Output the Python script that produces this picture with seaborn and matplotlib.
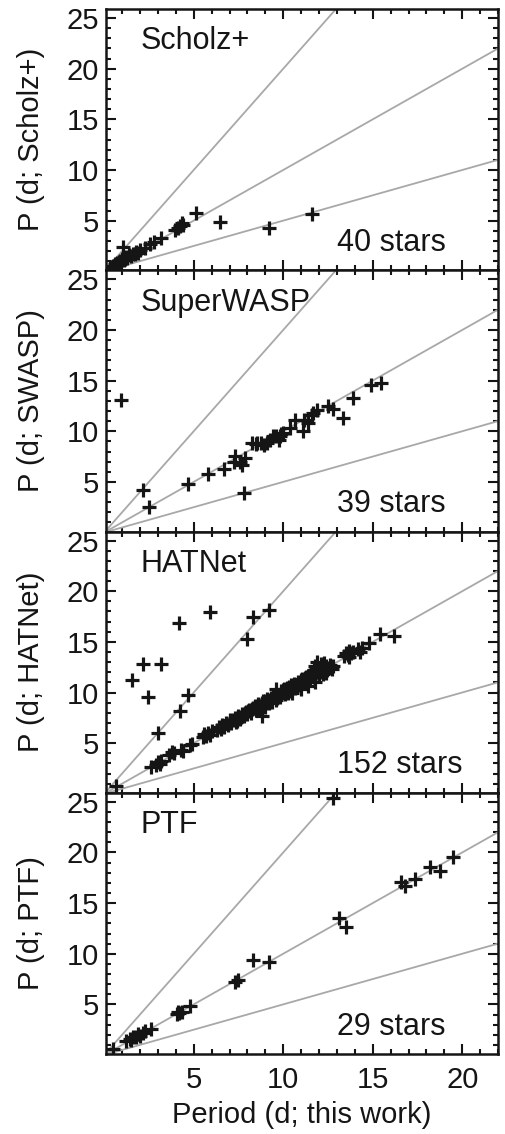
import matplotlib
matplotlib.use("Agg")
import matplotlib.pyplot as plt
import seaborn as sns
import pandas as pd
from matplotlib.ticker import MultipleLocator

# ---------------- data ----------------
panel_names = ["Scholz+", "SuperWASP", "HATNet", "PTF"]
ylabels = ["P (d; Scholz+)", "P (d; SWASP)", "P (d; HATNet)", "P (d; PTF)"]
star_labels = ["40 stars", "39 stars", "152 stars", "29 stars"]

scholz_x = [5.11, 6.47, 9.18, 11.61, 4.32, 4.24, 3.95, 4.10, 3.20, 2.55, 2.27, 1.05, 2.80, 1.80,
            1.90, 1.60, 1.50, 1.40, 1.30, 1.20, 1.10, 1.00, 0.95, 0.90, 0.85, 0.80, 0.75, 0.70,
            0.65, 0.60, 0.55, 0.50, 0.45, 0.40, 0.35, 0.30, 1.15, 1.70, 2.00, 4.40]
scholz_y = [5.75, 4.86, 4.27, 5.68, 4.76, 4.50, 4.10, 4.30, 3.28, 2.72, 2.29, 2.39, 2.90, 1.90,
            1.80, 1.70, 1.50, 1.60, 1.30, 1.40, 1.10, 1.20, 0.90, 1.00, 0.80, 0.90, 0.70, 0.80,
            0.60, 0.70, 0.50, 0.55, 0.40, 0.45, 0.30, 0.35, 1.25, 1.75, 2.10, 4.60]

swasp_x = [0.96, 2.16, 2.50, 4.67, 5.78, 6.67, 7.82, 7.32, 7.60, 7.69, 7.88, 7.23, 8.25, 8.55,
           8.90, 9.09, 9.27, 9.45, 9.84, 9.75, 10.00, 10.38, 10.66, 11.13, 11.14, 11.40, 11.68,
           11.87, 12.52, 12.80, 13.35, 13.90, 14.93, 15.49, 8.50, 9.60, 9.90, 11.60, 8.75]
swasp_y = [13.07, 4.23, 2.48, 4.79, 5.81, 6.27, 3.90, 7.51, 7.00, 6.68, 7.35, 7.00, 8.85, 8.85,
           8.66, 8.85, 9.18, 9.50, 9.50, 9.18, 9.82, 10.34, 11.16, 10.00, 11.16, 10.83, 11.82,
           12.13, 12.47, 12.22, 11.32, 13.24, 14.60, 14.78, 8.70, 9.55, 9.70, 11.60, 8.80]

hat_x = [1.58, 2.14, 2.42, 3.20, 4.17, 4.23, 4.69, 5.91, 7.97, 8.34, 9.18, 3.01, 0.68,
         2.6, 2.9, 3.0, 3.1, 3.2, 3.6, 3.8, 3.9, 4.3, 4.4, 4.8, 4.9, 5.5, 5.6, 5.7, 5.8, 5.9,
         6.0, 6.3, 6.4, 6.5, 6.6, 6.7, 6.8, 6.9, 7.0, 7.1, 7.2, 7.3, 7.4, 7.5, 7.6, 7.7, 7.8,
         7.9, 8.0, 8.1, 8.2, 8.3, 8.4, 8.5, 8.6, 8.7, 8.8, 8.8, 8.9, 9.0, 9.0, 9.1, 9.2, 9.3,
         9.4, 9.5, 9.6, 9.6, 9.7, 9.8, 9.9, 10.0, 10.1, 10.2, 10.3, 10.4, 10.5, 10.5, 10.6,
         10.7, 10.8, 10.9, 11.0, 11.0, 11.1, 11.2, 11.3, 11.4, 11.4, 11.5, 11.6, 11.7, 11.7,
         11.8, 11.8, 11.9, 11.9, 12.0, 12.0, 12.1, 12.1, 12.2, 12.2, 12.3, 12.3, 12.4, 12.4,
         12.5, 12.6, 12.7, 12.8, 13.4, 13.5, 13.6, 13.7, 13.7, 13.8, 14.2, 14.3, 14.4, 14.8,
         15.4, 16.2,
         7.05, 7.35, 7.45, 7.65, 7.85, 8.05, 8.25, 8.45, 8.65, 8.85, 9.05, 9.25, 9.45, 9.65,
         9.85, 10.05, 10.25, 10.45, 10.65, 10.85, 11.05, 11.25, 11.45, 11.65, 11.85, 12.05,
         12.25, 12.45, 13.9]
hat_y = [11.25, 12.77, 9.60, 12.77, 16.86, 8.20, 9.76, 17.95, 15.24, 17.46, 18.12, 6.05, 0.76,
         2.6, 2.8, 3.1, 2.9, 3.2, 3.8, 4.1, 4.0, 4.3, 4.2, 4.8, 4.9, 5.6, 5.9, 5.7, 6.0, 5.8,
         6.2, 6.3, 6.6, 6.4, 6.8, 6.6, 7.0, 6.8, 7.1, 7.0, 7.3, 7.5, 7.2, 7.6, 7.4, 7.9, 7.7,
         8.1, 7.9, 8.3, 8.0, 8.5, 8.6, 8.3, 8.9, 8.7, 9.0, 7.7, 8.8, 9.2, 8.6, 9.4, 9.0, 9.5,
         9.1, 9.7, 9.3, 10.3, 9.8, 9.6, 10.0, 10.2, 9.9, 10.4, 10.5, 10.1, 10.6, 10.0, 10.8,
         10.5, 11.0, 10.7, 11.2, 10.3, 11.0, 11.4, 11.1, 11.6, 10.6, 11.3, 11.8, 12.2, 11.5,
         12.6, 11.0, 13.0, 12.0, 12.4, 11.6, 12.8, 12.1, 12.5, 11.8, 12.9, 12.2, 12.6, 11.9,
         12.4, 12.7, 12.3, 12.6, 13.6, 13.9, 13.7, 14.1, 13.5, 13.9, 14.3, 14.0, 14.4, 14.9,
         15.8, 15.6,
         7.25, 7.1, 7.7, 7.6, 8.0, 8.2, 8.4, 8.7, 8.5, 9.2, 9.0, 9.3, 9.6, 9.5,
         10.1, 10.3, 10.0, 10.7, 10.4, 10.9, 11.3, 11.5, 11.2, 12.0, 12.3, 12.0,
         12.7, 12.2, 14.0]

ptf_x = [12.80, 19.50, 18.18, 18.74, 17.34, 16.60, 16.79, 13.13, 13.50, 8.34, 9.18, 7.32, 7.50,
         4.82, 4.35, 4.04, 4.13, 2.64, 2.17, 1.89, 1.61, 1.42, 1.24, 0.49, 4.20, 2.00, 1.75,
         2.30, 1.50]
ptf_y = [25.40, 19.60, 18.56, 18.13, 17.34, 17.08, 16.68, 13.54, 12.62, 9.39, 9.16, 7.24, 7.40,
         4.86, 4.27, 4.04, 4.20, 2.55, 2.22, 2.06, 1.73, 1.63, 1.37, 0.57, 4.10, 1.90, 1.80,
         2.40, 1.45]

panel_x = [scholz_x, swasp_x, hat_x, ptf_x]
panel_y = [scholz_y, swasp_y, hat_y, ptf_y]

ref_slopes = [0.5, 1.0, 2.0]
ref_x = [0.0, 22.0]

# ---------------- style ----------------
sns.set_theme(style="ticks")
plt.rcParams["font.family"] = ["Liberation Sans", "DejaVu Sans"]
plt.rcParams["text.color"] = "#151515"
plt.rcParams["axes.labelcolor"] = "#151515"
plt.rcParams["xtick.color"] = "#151515"
plt.rcParams["ytick.color"] = "#151515"

W, H = 505, 1134
fig = plt.figure(figsize=(W / 100, H / 100), dpi=100)

left_px, right_px = 106, 498
top_px, bot_px = 9, 1054
ph = (bot_px - top_px) / 4

line_col = "#a8a8a8"
txt_col = "#151515"

for i in range(4):
    t = top_px + i * ph
    b = t + ph
    ax = fig.add_axes([left_px / W, 1 - b / H, (right_px - left_px) / W, ph / H])

    ref_df = pd.DataFrame({
        "x": [xx for s in ref_slopes for xx in ref_x],
        "y": [s * xx for s in ref_slopes for xx in ref_x],
        "slope": [s for s in ref_slopes for xx in ref_x],
    })
    sns.lineplot(data=ref_df, x="x", y="y", units="slope", estimator=None,
                 color=line_col, linewidth=1.3, ax=ax, zorder=1)

    df = pd.DataFrame({"x": panel_x[i], "y": panel_y[i]})
    sns.scatterplot(data=df, x="x", y="y", marker="+", s=105, color=txt_col,
                    linewidth=2.3, ax=ax, zorder=3)

    ax.set_xlim(0.1, 22.0)
    ax.set_ylim(0.1, 25.9)
    ax.xaxis.set_major_locator(MultipleLocator(5))
    ax.xaxis.set_minor_locator(MultipleLocator(1))
    ax.yaxis.set_major_locator(MultipleLocator(5))
    ax.yaxis.set_minor_locator(MultipleLocator(1))
    ax.tick_params(which="both", direction="in", top=True, right=True,
                   width=1.5, colors=txt_col)
    ax.tick_params(which="major", length=7.2)
    ax.tick_params(which="minor", length=3.6)
    ax.tick_params(axis="y", labelsize=21, pad=5)
    ax.tick_params(axis="x", labelsize=21, pad=9)
    for sp in ax.spines.values():
        sp.set_linewidth(1.8)
        sp.set_color(txt_col)

    ax.set_ylabel(ylabels[i], fontsize=21)
    ax.yaxis.set_label_coords(-0.156, 0.5)
    if i < 3:
        ax.set_xlabel("")
        ax.tick_params(axis="x", labelbottom=False)
    else:
        ax.set_xlabel("Period (d; this work)", fontsize=21)
        ax.xaxis.set_label_coords(0.5, -0.18)

    ax.text(0.089, 0.845, panel_names[i], transform=ax.transAxes, fontsize=22,
            ha="left", va="baseline", color=txt_col)
    ax.text(0.59, 0.074, star_labels[i], transform=ax.transAxes, fontsize=22,
            ha="left", va="baseline", color=txt_col)

fig.savefig("out.png", dpi=100)
